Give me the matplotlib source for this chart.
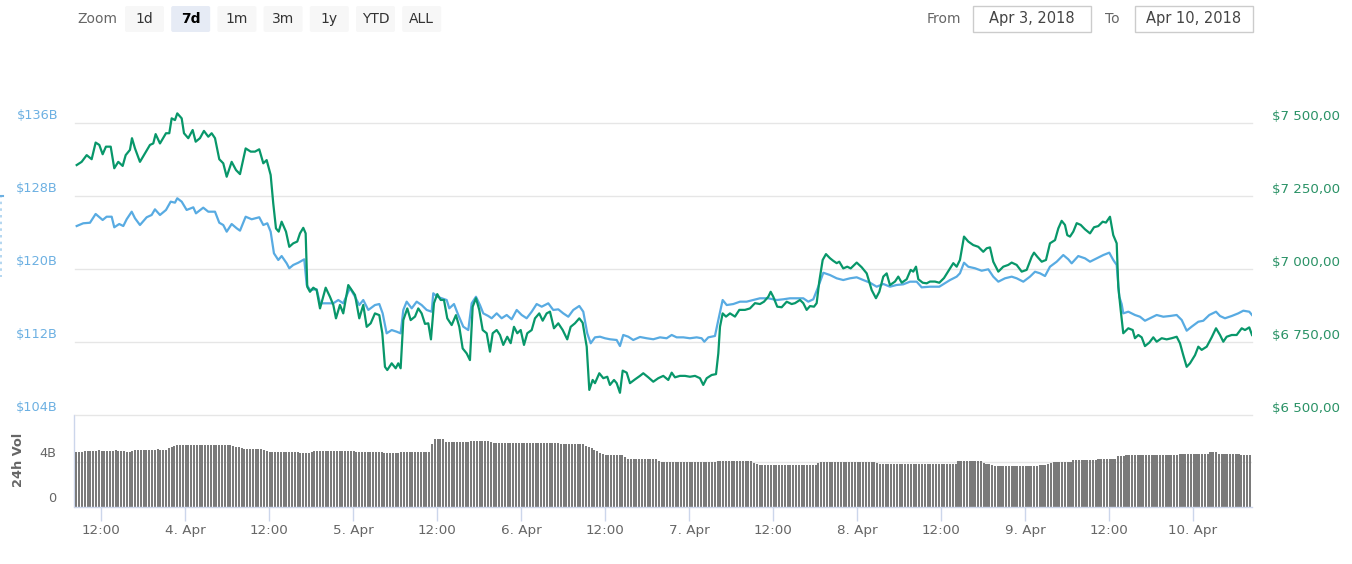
import numpy as np
import matplotlib
matplotlib.use("Agg")
import matplotlib.pyplot as plt
import matplotlib.transforms as mtransforms
from matplotlib.patches import FancyBboxPatch, Rectangle

W, H = 1352, 564
plt.rcParams.update({"font.family": "DejaVu Sans"})

# --- data (time = hours since 3 Apr 2018 00:00) -------------------------
PRICE_HOURS = [
    8.53, 9.24, 9.96, 10.67, 11.24, 11.76, 12.24, 12.71, 13.39, 13.9, 14.47, 15.1, 15.53, 16.14, 16.43, 16.86,
    17.57, 18.43, 19.0, 19.47, 19.81, 20.43, 21.29, 21.76, 22.1, 22.57, 22.9, 23.53, 23.86, 24.47, 25.1, 25.53,
    26.14, 26.71, 27.33, 27.81, 28.29, 28.9, 29.47, 29.96, 30.67, 31.29, 31.86, 32.67, 33.39, 34.0, 34.61, 35.19,
    35.67, 36.24, 36.61, 37.0, 37.39, 37.81, 38.43, 38.9, 39.47, 40.04, 40.43, 40.9, 41.24, 41.47, 41.86, 42.33,
    42.81, 43.29, 44.1, 44.71, 45.19, 45.57, 46.14, 46.61, 47.33, 47.81, 48.29, 48.9, 49.47, 49.96, 50.53, 51.14,
    51.76, 52.19, 52.57, 52.9, 53.53, 54.1, 54.47, 54.81, 55.19, 55.76, 56.24, 56.86, 57.33, 57.81, 58.29, 58.76,
    59.14, 59.57, 60.04, 60.53, 61.0, 61.47, 62.1, 62.71, 63.19, 63.67, 64.24, 64.71, 65.1, 65.57, 66.04, 66.53,
    67.1, 67.57, 67.96, 68.53, 69.0, 69.47, 70.04, 70.53, 71.0, 71.47, 71.96, 72.43, 72.9, 73.53, 74.0, 74.61,
    75.1, 75.67, 76.14, 76.71, 77.33, 77.96, 78.61, 79.1, 79.71, 80.33, 80.81, 81.39, 81.76, 82.24, 82.57, 83.19,
    83.76, 84.33, 84.71, 85.29, 85.67, 86.14, 86.53, 87.1, 87.57, 88.29, 89.0, 89.47, 90.19, 90.9, 91.61, 92.33,
    93.04, 93.53, 94.0, 94.71, 95.43, 96.14, 96.86, 97.57, 98.04, 98.53, 99.24, 99.86, 100.19, 100.43, 100.81, 101.29,
    101.86, 102.57, 103.19, 104.0, 104.71, 105.43, 106.14, 106.71, 107.33, 107.67, 108.04, 108.61, 109.24, 109.96, 110.67, 111.14,
    111.86, 112.33, 112.81, 113.29, 113.86, 114.24, 114.61, 115.1, 115.57, 116.14, 116.61, 117.1, 117.47, 118.04, 118.61, 119.1,
    119.96, 120.67, 121.39, 122.1, 122.71, 123.19, 123.76, 124.24, 124.71, 125.43, 125.9, 126.39, 127.1, 127.67, 128.04, 128.43,
    128.76, 129.39, 129.96, 130.43, 131.14, 131.76, 132.43, 133.29, 133.76, 134.24, 134.71, 135.29, 135.9, 136.61, 137.33, 138.04,
    138.53, 139.0, 139.47, 140.19, 140.9, 141.61, 142.1, 142.81, 143.53, 144.24, 144.96, 145.29, 145.76, 146.39, 147.0, 147.57,
    148.29, 148.76, 149.24, 149.71, 150.04, 150.43, 150.9, 151.39, 151.96, 152.57, 153.29, 153.86, 154.47, 155.1, 155.57, 156.14,
    156.61, 157.1, 157.33, 157.67, 158.04, 158.76, 159.39, 159.71, 160.19, 160.67, 161.14, 161.76, 162.33, 162.81, 163.53, 164.24,
    164.96, 165.67, 166.14, 166.61, 167.1, 167.57, 168.29, 168.76, 169.24, 169.96, 170.67, 171.29, 171.86, 172.33, 172.81, 173.53,
    174.24, 174.96, 175.43, 176.04, 176.43,
]
PRICE_USD = [
    7356, 7367, 7390, 7376, 7433, 7425, 7393, 7419, 7419, 7345, 7367, 7353, 7390, 7408, 7448, 7413,
    7367, 7402, 7425, 7430, 7462, 7430, 7465, 7465, 7516, 7510, 7533, 7516, 7465, 7448, 7476, 7436,
    7448, 7473, 7453, 7465, 7448, 7376, 7362, 7316, 7367, 7339, 7325, 7413, 7402, 7402, 7410, 7362,
    7373, 7322, 7225, 7139, 7128, 7162, 7128, 7076, 7088, 7094, 7122, 7141, 7122, 6939, 6922, 6936,
    6928, 6865, 6936, 6905, 6877, 6831, 6877, 6848, 6945, 6928, 6911, 6831, 6877, 6802, 6814, 6848,
    6842, 6780, 6665, 6654, 6677, 6660, 6677, 6660, 6825, 6865, 6825, 6837, 6865, 6848, 6812, 6814,
    6759, 6883, 6914, 6894, 6894, 6831, 6808, 6842, 6802, 6728, 6711, 6688, 6871, 6900, 6860, 6791,
    6780, 6717, 6780, 6791, 6774, 6740, 6768, 6746, 6802, 6780, 6791, 6740, 6780, 6791, 6831, 6848,
    6823, 6848, 6854, 6797, 6814, 6791, 6759, 6802, 6814, 6831, 6816, 6734, 6586, 6620, 6609, 6643,
    6626, 6631, 6603, 6620, 6609, 6576, 6652, 6645, 6609, 6622, 6634, 6643, 6629, 6614, 6626, 6634,
    6620, 6645, 6629, 6634, 6634, 6631, 6634, 6626, 6603, 6626, 6637, 6640, 6711, 6802, 6848, 6837,
    6848, 6837, 6860, 6860, 6865, 6883, 6880, 6888, 6905, 6922, 6905, 6871, 6869, 6888, 6880, 6883,
    6894, 6883, 6860, 6873, 6871, 6883, 6957, 7031, 7051, 7037, 7028, 7020, 7025, 7002, 7008, 7002,
    7022, 7006, 6985, 6928, 6900, 6922, 6974, 6985, 6945, 6957, 6974, 6953, 6965, 6997, 6991, 7008,
    6965, 6953, 6951, 6957, 6957, 6953, 6969, 7002, 7020, 7008, 7031, 7111, 7094, 7082, 7076, 7059,
    7071, 7074, 7025, 6991, 7008, 7014, 7022, 7014, 6991, 6997, 7042, 7056, 7042, 7025, 7031, 7088,
    7099, 7139, 7165, 7151, 7116, 7111, 7128, 7157, 7151, 7136, 7122, 7143, 7147, 7162, 7159, 7179,
    7116, 7088, 6939, 6860, 6780, 6797, 6791, 6763, 6774, 6766, 6736, 6748, 6766, 6751, 6763, 6759,
    6763, 6768, 6746, 6705, 6665, 6677, 6705, 6734, 6723, 6734, 6766, 6797, 6774, 6751, 6768, 6774,
    6774, 6797, 6791, 6800, 6774,
]

CAP_HOURS = [
    8.53, 9.47, 10.43, 11.24, 12.24, 12.81, 13.53, 13.9, 14.61, 15.19, 15.67, 16.39, 16.86, 17.57, 18.53, 19.24,
    19.71, 20.43, 21.29, 21.96, 22.57, 22.9, 23.53, 24.24, 25.19, 25.57, 26.61, 27.33, 28.29, 28.9, 29.47, 29.96,
    30.67, 31.39, 31.86, 32.67, 33.53, 34.61, 35.19, 35.76, 36.24, 36.71, 37.33, 37.81, 38.53, 38.9, 39.47, 40.19,
    41.04, 41.39, 41.86, 42.81, 43.29, 45.19, 45.9, 46.61, 47.57, 48.29, 48.9, 49.47, 50.19, 51.14, 51.76, 52.24,
    52.81, 53.53, 54.24, 54.81, 55.19, 55.67, 56.39, 57.1, 57.81, 58.53, 59.24, 59.47, 60.04, 60.67, 61.39, 61.76,
    62.43, 63.04, 63.76, 64.47, 64.96, 65.57, 66.14, 66.61, 67.33, 67.81, 68.53, 69.24, 69.96, 70.67, 71.39, 72.1,
    72.81, 73.53, 74.24, 74.96, 75.9, 76.61, 77.33, 78.04, 78.76, 79.47, 80.33, 80.9, 81.47, 81.96, 82.57, 83.29,
    84.0, 84.71, 85.67, 86.14, 86.61, 87.33, 88.04, 89.0, 89.96, 90.9, 91.86, 92.81, 93.53, 94.24, 95.19, 96.14,
    97.1, 97.81, 98.19, 98.76, 99.71, 100.19, 100.81, 101.39, 102.33, 103.29, 104.24, 105.19, 106.14, 107.33, 108.53, 109.47,
    110.43, 111.39, 112.33, 113.04, 113.76, 114.47, 115.19, 116.14, 117.1, 118.04, 119.0, 119.96, 120.9, 121.86, 122.81, 123.76,
    124.71, 125.67, 126.61, 127.57, 128.53, 129.24, 130.43, 131.76, 133.29, 134.24, 134.71, 135.29, 135.9, 136.86, 137.81, 138.76,
    139.47, 140.19, 141.14, 142.1, 142.81, 143.76, 144.71, 145.43, 146.14, 146.86, 147.57, 148.53, 149.47, 150.19, 150.67, 151.61,
    152.57, 153.29, 154.24, 155.19, 156.04, 156.61, 157.1, 157.47, 157.81, 158.04, 158.76, 159.71, 160.43, 161.14, 161.86, 162.81,
    163.76, 164.71, 165.67, 166.39, 167.1, 167.81, 168.76, 169.47, 170.33, 171.29, 171.86, 172.57, 173.53, 174.47, 175.19, 176.04,
    176.43,
]
CAP_BN = [
    124.71, 125.01, 125.07, 126.03, 125.37, 125.73, 125.73, 124.57, 124.93, 124.71, 125.45, 126.28, 125.56, 124.82, 125.67, 125.92,
    126.54, 125.92, 126.47, 127.38, 127.27, 127.75, 127.38, 126.47, 126.76, 126.1, 126.72, 126.28, 126.28, 125.07, 124.82, 124.09,
    124.93, 124.46, 124.2, 125.73, 125.45, 125.67, 124.82, 125.01, 124.09, 121.72, 120.99, 121.42, 120.62, 120.08, 120.44, 120.69,
    121.06, 118.25, 117.7, 117.78, 116.24, 116.24, 116.6, 116.24, 117.92, 116.96, 116.05, 116.6, 115.51, 116.05, 116.16, 115.14,
    112.95, 113.31, 113.13, 112.95, 115.51, 116.42, 115.69, 116.42, 116.05, 115.51, 115.32, 117.34, 116.96, 116.79, 116.6, 115.69,
    116.16, 114.96, 113.68, 113.31, 116.24, 116.96, 116.05, 115.14, 114.85, 114.6, 115.14, 114.6, 114.96, 114.49, 115.51, 114.96,
    114.6, 115.32, 116.16, 115.87, 116.24, 115.51, 115.58, 115.14, 114.77, 115.51, 115.95, 115.32, 112.95, 111.86, 112.51, 112.58,
    112.41, 112.3, 112.22, 111.56, 112.77, 112.58, 112.22, 112.55, 112.41, 112.3, 112.51, 112.41, 112.77, 112.51, 112.51, 112.41,
    112.51, 112.41, 112.03, 112.51, 112.66, 114.41, 116.6, 116.05, 116.16, 116.42, 116.42, 116.6, 116.79, 116.79, 116.6, 116.68,
    116.79, 116.79, 116.79, 116.42, 116.68, 118.06, 119.59, 119.34, 118.98, 118.79, 118.98, 119.09, 118.79, 118.5, 118.06, 118.36,
    118.06, 118.25, 118.32, 118.61, 118.61, 117.99, 118.06, 118.06, 118.79, 119.16, 119.53, 120.69, 120.25, 120.08, 119.81, 119.97,
    119.16, 118.61, 118.98, 119.16, 118.98, 118.61, 119.16, 119.7, 119.53, 119.23, 120.25, 120.8, 121.53, 121.06, 120.62, 121.42,
    121.17, 120.8, 121.17, 121.53, 121.79, 120.99, 120.44, 116.96, 116.16, 115.14, 115.32, 114.96, 114.77, 114.33, 114.6, 114.96,
    114.77, 114.85, 114.96, 114.41, 113.24, 113.68, 114.22, 114.33, 114.96, 115.32, 114.85, 114.6, 114.85, 115.14, 115.43, 115.32,
    114.96,
]

# 24h volume, one bar per 24 minutes
VOLUME_BN = [
    4.9, 4.9, 4.9, 5.0, 5.0, 5.0, 5.0, 5.0, 5.05, 5.0, 5.0, 5.0, 5.0, 5.0, 5.05, 5.0, 5.0, 5.0,
    4.9, 4.85, 5.0, 5.1, 5.1, 5.1, 5.1, 5.1, 5.1, 5.1, 5.1, 5.15, 5.1, 5.1, 5.1,
    5.2, 5.3, 5.4, 5.5, 5.5, 5.5, 5.5, 5.5, 5.5, 5.5, 5.5, 5.5, 5.5, 5.5, 5.5, 5.5, 5.5, 5.5, 5.5, 5.5, 5.5, 5.5, 5.5,
    5.4, 5.3, 5.3, 5.2, 5.15, 5.15, 5.15, 5.15, 5.15, 5.15, 5.15, 5.1, 5.0,
    4.9, 4.9, 4.9, 4.9, 4.9, 4.9, 4.9, 4.9, 4.9, 4.9, 4.9, 4.8, 4.8, 4.8, 4.8,
    4.9, 5.0, 5.0, 5.0, 5.0, 5.0, 5.0, 5.0, 5.0, 5.0, 5.0, 5.0, 5.0, 5.0, 5.0, 5.0,
    4.9, 4.9, 4.9, 4.9, 4.9, 4.9, 4.9, 4.9, 4.9, 4.9, 4.8, 4.8, 4.8, 4.8, 4.8, 4.8,
    4.9, 4.9, 4.9, 4.9, 4.9, 4.9, 4.9, 4.9, 4.9, 4.9, 4.9,
    5.6, 6.0, 6.0, 6.05, 6.0, 5.8, 5.8, 5.8, 5.8, 5.8, 5.8, 5.8, 5.8, 5.8,
    5.9, 5.9, 5.9, 5.9, 5.9, 5.9, 5.9,
    5.8, 5.7, 5.7, 5.7, 5.7, 5.7, 5.7, 5.7, 5.7, 5.7, 5.7, 5.7, 5.7, 5.7, 5.7, 5.7, 5.7, 5.7, 5.7, 5.7, 5.7, 5.7, 5.7, 5.7, 5.7,
    5.6, 5.6, 5.6, 5.6, 5.6, 5.6, 5.6, 5.6, 5.6, 5.4, 5.3, 5.2, 5.1, 5.0,
    4.8, 4.7, 4.6, 4.6, 4.6, 4.6, 4.6, 4.6, 4.6, 4.4, 4.3, 4.25, 4.25, 4.25, 4.25, 4.25, 4.25, 4.25, 4.25, 4.25, 4.25,
    4.1, 4.0, 4.0, 4.0, 4.0, 4.0, 4.0, 4.0, 4.0, 4.0, 4.0, 4.0, 4.0, 4.0, 4.0, 4.0, 4.0, 4.0, 4.0, 4.0, 4.0,
    4.1, 4.1, 4.1, 4.1, 4.1, 4.1, 4.1, 4.1, 4.1, 4.1, 4.1, 4.1, 4.1,
    3.9, 3.8, 3.75, 3.75, 3.75, 3.75, 3.75, 3.75, 3.75, 3.75, 3.75, 3.75, 3.75, 3.75, 3.75, 3.75, 3.75, 3.75, 3.75, 3.75, 3.75, 3.75, 3.75,
    3.9, 4.0, 4.0, 4.0, 4.0, 4.0, 4.0, 4.0, 4.0, 4.0, 4.0, 4.0, 4.0, 4.0, 4.0, 4.0, 4.0, 4.0, 4.0, 4.0, 4.0,
    3.9, 3.8, 3.8, 3.8, 3.8, 3.8, 3.8, 3.8, 3.8, 3.8, 3.8, 3.8, 3.8, 3.8, 3.8, 3.8, 3.8, 3.8, 3.8, 3.8, 3.8, 3.8, 3.8, 3.8, 3.8, 3.8, 3.8, 3.8, 3.8,
    4.05, 4.05, 4.05, 4.05, 4.05, 4.05, 4.05, 4.05, 4.05, 3.9, 3.85, 3.8, 3.7,
    3.6, 3.6, 3.6, 3.6, 3.6, 3.6, 3.6, 3.6, 3.6, 3.6, 3.6, 3.6, 3.6, 3.6, 3.6, 3.6,
    3.7, 3.75, 3.75, 3.8, 3.9, 4.0, 4.0, 4.0, 4.0, 4.0, 4.0, 4.0,
    4.15, 4.15, 4.15, 4.15, 4.15, 4.15, 4.15, 4.15, 4.15, 4.25, 4.25, 4.25, 4.25, 4.25, 4.25, 4.25,
    4.5, 4.55, 4.55, 4.6, 4.6, 4.6, 4.6, 4.6, 4.6, 4.6, 4.6, 4.6, 4.6, 4.6, 4.6, 4.6, 4.6, 4.6, 4.6, 4.6, 4.6, 4.6,
    4.75, 4.75, 4.75, 4.75, 4.75, 4.75, 4.75, 4.75, 4.75, 4.75, 4.75, 4.9, 4.9, 4.85,
    4.7, 4.7, 4.7, 4.7, 4.7, 4.7, 4.7, 4.7, 4.6, 4.6, 4.6, 4.6,
]
VOL_FIRST_H, VOL_LAST_H = 8.5, 176.1

X_RANGE_H = (8.29, 176.43)
CAP_TICKS = [104, 112, 120, 128, 136]
CAP_LABELS = ["$104B", "$112B", "$120B", "$128B", "$136B"]
PRICE_TICKS = [6500, 6750, 7000, 7250, 7500]
PRICE_LABELS = ["$6 500,00", "$6 750,00", "$7 000,00", "$7 250,00", "$7 500,00"]
VOL_TICKS = [0, 4]
VOL_LABELS = ["0", "4B"]
TIME_TICKS_H = [12, 24, 36, 48, 60, 72, 84, 96, 108, 120, 132, 144, 156, 168]
TIME_LABELS = ["12:00", "4. Apr", "12:00", "5. Apr", "12:00", "6. Apr", "12:00",
               "7. Apr", "12:00", "8. Apr", "12:00", "9. Apr", "12:00", "10. Apr"]
ZOOM_BUTTONS = ["1d", "7d", "1m", "3m", "1y", "YTD", "ALL"]
ZOOM_ACTIVE = "7d"
DATE_FROM, DATE_TO = "Apr 3, 2018", "Apr 10, 2018"

BLUE = "#58abe2"
GREEN = "#08976a"
BLUE_TXT = "#6cb0e2"
GREEN_TXT = "#2a9266"
GRID = "#e6e6e6"
AXIS = "#ccd6eb"
GREY_TXT = "#666666"


def box(l, t, r, b):
    """pixel box (left, top, right, bottom) -> figure fraction rect"""
    return [l / W, 1 - b / H, (r - l) / W, (b - t) / H]


fig = plt.figure(figsize=(W / 100, H / 100), dpi=100)

# toolbar, drawn in pixel coordinates
ui = fig.add_axes([0, 0, 1, 1])
ui.set_xlim(0, W)
ui.set_ylim(H, 0)
ui.axis("off")
ui.text(77, 19, "Zoom", ha="left", va="center", fontsize=10, color=GREY_TXT)
for i, name in enumerate(ZOOM_BUTTONS):
    x0 = 125 + i * 46.2
    active = name == ZOOM_ACTIVE
    ui.add_patch(FancyBboxPatch((x0, 6), 39, 26, boxstyle="round,pad=0,rounding_size=2",
                                fc="#e6ebf5" if active else "#f7f7f7", ec="none"))
    ui.text(x0 + 19.5, 19, name, ha="center", va="center", fontsize=10,
            color="#000000" if active else "#333333",
            fontweight="bold" if active else "normal")
ui.text(927, 19, "From", ha="left", va="center", fontsize=10, color=GREY_TXT)
ui.text(1105, 19, "To", ha="left", va="center", fontsize=10, color=GREY_TXT)
for x0, label in [(973, DATE_FROM), (1134.5, DATE_TO)]:
    ui.add_patch(Rectangle((x0, 6), 118, 26, fc="white", ec="#cccccc", lw=1))
    ui.text(x0 + 59, 19, label, ha="center", va="center", fontsize=10.5, color="#444444")
ui.plot([73.5, 73.5], [415, 507], color=AXIS, lw=1)
# clipped left axis title remnant at the canvas edge
ui.plot([1.2, 1.2], [195, 277], color=BLUE_TXT, lw=1.2, ls=(0, (1.5, 2.5)), alpha=0.6)
ui.plot([0, 3], [196, 196], color=BLUE_TXT, lw=1.5)
fig.text(19 / W, 1 - 460 / H, "24h Vol", rotation=90, ha="center", va="center",
         fontsize=9.3, fontweight="bold", color=GREY_TXT)

# main price / market cap pane
ax_cap = fig.add_axes(box(75, 100, 1252, 415))
ax_cap.set_facecolor("none")
ax_cap.set_xlim(*X_RANGE_H)
ax_cap.set_ylim(104, 138.52)
ax_px = ax_cap.twinx()
ax_px.set_ylim(6500, 7578.8)
for a in (ax_cap, ax_px):
    for s in a.spines.values():
        s.set_visible(False)
    a.set_xticks([])
    a.set_yticks([])

for v in CAP_TICKS:
    ax_cap.axhline(v, color=GRID, lw=1, zorder=0, clip_on=False)
ax_cap.plot(CAP_HOURS, CAP_BN, color=BLUE, lw=1.6, solid_joinstyle="round", zorder=2)
ax_px.plot(PRICE_HOURS, PRICE_USD, color=GREEN, lw=1.6, solid_joinstyle="round", zorder=3)

left_tr = mtransforms.offset_copy(
    mtransforms.blended_transform_factory(fig.transFigure, ax_cap.transData),
    fig=fig, x=0, y=7, units="dots")
for v, s in zip(CAP_TICKS, CAP_LABELS):
    ax_cap.text(58 / W, v, s, transform=left_tr, ha="right", va="center",
                fontsize=9.3, color=BLUE_TXT, parse_math=False, clip_on=False)
right_tr = mtransforms.offset_copy(
    mtransforms.blended_transform_factory(fig.transFigure, ax_px.transData),
    fig=fig, x=0, y=7, units="dots")
for v, s in zip(PRICE_TICKS, PRICE_LABELS):
    ax_px.text(1272 / W, v, s, transform=right_tr, ha="left", va="center",
               fontsize=9.6, color=GREEN_TXT, parse_math=False, clip_on=False)

# volume pane
ax_vol = fig.add_axes(box(75, 418, 1252, 507))
ax_vol.set_facecolor("none")
ax_vol.set_xlim(*X_RANGE_H)
ax_vol.set_ylim(0, 7.91)
vol_hours = np.linspace(VOL_FIRST_H, VOL_LAST_H, len(VOLUME_BN))
ax_vol.axhline(4, color=GRID, lw=1, zorder=0)
ax_vol.bar(vol_hours, VOLUME_BN, width=0.29, color="#7a7a7a", lw=0, zorder=2)
for side in ("top", "right", "left"):
    ax_vol.spines[side].set_visible(False)
ax_vol.spines["bottom"].set_color(AXIS)
ax_vol.spines["bottom"].set_linewidth(1)
ax_vol.set_yticks([])
ax_vol.set_xticks(TIME_TICKS_H, TIME_LABELS)
ax_vol.tick_params(axis="x", length=10, width=1, color=AXIS, labelcolor=GREY_TXT,
                   labelsize=9.7, pad=2)
vol_tr = mtransforms.offset_copy(
    mtransforms.blended_transform_factory(fig.transFigure, ax_vol.transData),
    fig=fig, x=0, y=8, units="dots")
for v, s in zip(VOL_TICKS, VOL_LABELS):
    ax_vol.text(56 / W, v, s, transform=vol_tr, ha="right", va="center",
                fontsize=9.3, color=GREY_TXT, clip_on=False)

fig.savefig("out.png", dpi=100, facecolor="white")
